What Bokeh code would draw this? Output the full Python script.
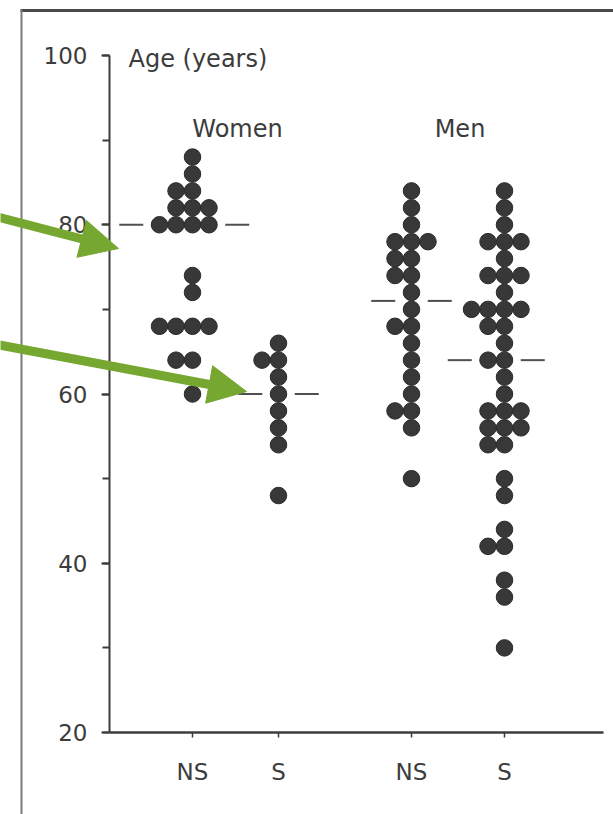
import numpy as np
from bokeh.plotting import figure
from bokeh.models import (Range1d, FixedTicker, SingleIntervalTicker, Label,
                          Arrow, NormalHead, LinearAxis)
from bokeh.embed import file_html
from bokeh.resources import INLINE

# ---------------- data ----------------
group_labels = ["NS", "S", "NS", "S"]
sex_labels = ["Women", "Men"]
women_ns_age = [88, 86, 84, 84, 82, 82, 82, 80, 80, 80, 80, 74, 72,
                68, 68, 68, 68, 64, 64, 60]
women_s_age = [66, 64, 64, 62, 60, 58, 56, 54, 48]
men_ns_age = [84, 82, 80, 78, 78, 78, 76, 76, 74, 74, 72, 70, 68, 68,
              66, 64, 62, 60, 58, 58, 56, 50]
men_s_age = [84, 82, 80, 78, 78, 78, 76, 74, 74, 74, 72, 70, 70, 70, 70,
             68, 68, 66, 64, 64, 62, 60, 58, 58, 58, 56, 56, 56, 54, 54,
             50, 48, 44, 42, 42, 38, 36, 30]
y_axis_bounds = (20, 100)
y_tick_interval = 20

# ---------------- layout constants ----------------
W, H = 613, 814
axis_px_x, axis_px_y = 109, 732       # where the axes cross on the page
top_px = 55                            # page row of the value 100
px_per_year = (axis_px_y - top_px) / (y_axis_bounds[1] - y_axis_bounds[0])
x_axis_len = 494
group_x = [83, 169, 302, 395]          # horizontal slots of the 4 groups
dot_step = 16.5                        # horizontal spacing of tied dots
dot_size = 16.5
dot_color = "#383838"
ink = "#3c3c3c"
green = "#76a730"
font = "DejaVu Sans"


def py(page_y):
    return y_axis_bounds[0] + (axis_px_y - page_y) / px_per_year


def pxx(page_x):
    return page_x - axis_px_x


p = figure(width=W, height=H, output_backend="svg", toolbar_location=None,
           x_range=Range1d(pxx(0), pxx(W)), y_range=Range1d(py(H), py(0)),
           x_axis_location=None, y_axis_location=None, min_border=0)
p.outline_line_color = None
p.grid.visible = False
p.background_fill_color = "white"
p.border_fill_color = "white"

# axes
ya = LinearAxis(fixed_location=0, bounds=y_axis_bounds,
                ticker=SingleIntervalTicker(interval=y_tick_interval,
                                            num_minor_ticks=2))
ya.axis_line_color = ink
ya.axis_line_width = 2
ya.major_tick_line_color = ink
ya.minor_tick_line_color = ink
ya.major_tick_line_width = 2
ya.minor_tick_line_width = 2
ya.major_tick_in = 0
ya.major_tick_out = 8
ya.minor_tick_in = 0
ya.minor_tick_out = 7
ya.major_label_standoff = 14
ya.major_label_text_font = font
ya.major_label_text_font_size = "23px"
ya.major_label_text_color = ink
p.add_layout(ya, "left")

xa = LinearAxis(fixed_location=y_axis_bounds[0], bounds=(0, x_axis_len),
                ticker=FixedTicker(ticks=group_x))
xa.major_label_overrides = {float(x): lab for x, lab in zip(group_x, group_labels)}
xa.axis_line_color = ink
xa.axis_line_width = 2.5
xa.major_tick_line_color = ink
xa.major_tick_line_width = 1.5
xa.major_tick_in = 0
xa.major_tick_out = 5
xa.minor_tick_line_color = None
xa.major_label_standoff = 21
xa.major_label_text_font = font
xa.major_label_text_font_size = "23px"
xa.major_label_text_color = ink
p.add_layout(xa, "below")

# ---------------- dots and medians ----------------
groups = [women_ns_age, women_s_age, men_ns_age, men_s_age]
slot_order = [0, -1, 1, -2, 2]
xs, ys = [], []
med_x0, med_x1, med_y = [], [], []
gap, seg_len, r = 8, 24, dot_size / 2
for gx, ages in zip(group_x, groups):
    counts, offs = {}, []
    for a in ages:
        k = counts.get(a, 0)
        counts[a] = k + 1
        offs.append(slot_order[k])
        xs.append(gx + slot_order[k] * dot_step)
        ys.append(a)
    med = float(np.median(ages))
    near = [o for a, o in zip(ages, offs) if abs(a - med) <= 1]
    lo = gx + min(near) * dot_step - r - gap
    hi = gx + max(near) * dot_step + r + gap
    med_x0 += [lo - seg_len, hi]
    med_x1 += [lo, hi + seg_len]
    med_y += [med, med]

p.segment(x0=med_x0, y0=med_y, x1=med_x1, y1=med_y,
          line_color="#505050", line_width=2)
p.scatter(x=xs, y=ys, size=dot_size, fill_color=dot_color,
          line_color="#2a2a2a", line_width=1)

# ---------------- texts ----------------
p.add_layout(Label(x=19, y=py(58), text="Age (years)", text_font=font,
                   text_font_size="24px", text_color=ink,
                   text_baseline="middle"))
for i, s in enumerate(sex_labels):
    cx = (group_x[2 * i] + group_x[2 * i + 1]) / 2 + 2
    p.add_layout(Label(x=cx, y=py(128), text=s, text_font=font,
                       text_font_size="24px", text_color=ink,
                       text_align="center", text_baseline="middle"))

# ---------------- page frame of the scan ----------------
p.add_layout(Arrow(end=None, x_start=pxx(20), y_start=py(10),
                   x_end=pxx(640), y_end=py(10),
                   line_color="#4a4a4a", line_width=3))
p.add_layout(Arrow(end=None, x_start=pxx(21), y_start=py(9),
                   x_end=pxx(21), y_end=py(830),
                   line_color="#7a7a7a", line_width=2))

# ---------------- green pointer arrows ----------------
for (sx, sy, ex, ey) in [(-20, 212, 118, 248), (-20, 341, 246, 391)]:
    p.add_layout(Arrow(end=NormalHead(size=38, fill_color=green,
                                      line_color=green, line_width=1),
                       x_start=pxx(sx), y_start=py(sy),
                       x_end=pxx(ex), y_end=py(ey),
                       line_color=green, line_width=9))

open("out.html", "w").write(file_html(p, INLINE))
